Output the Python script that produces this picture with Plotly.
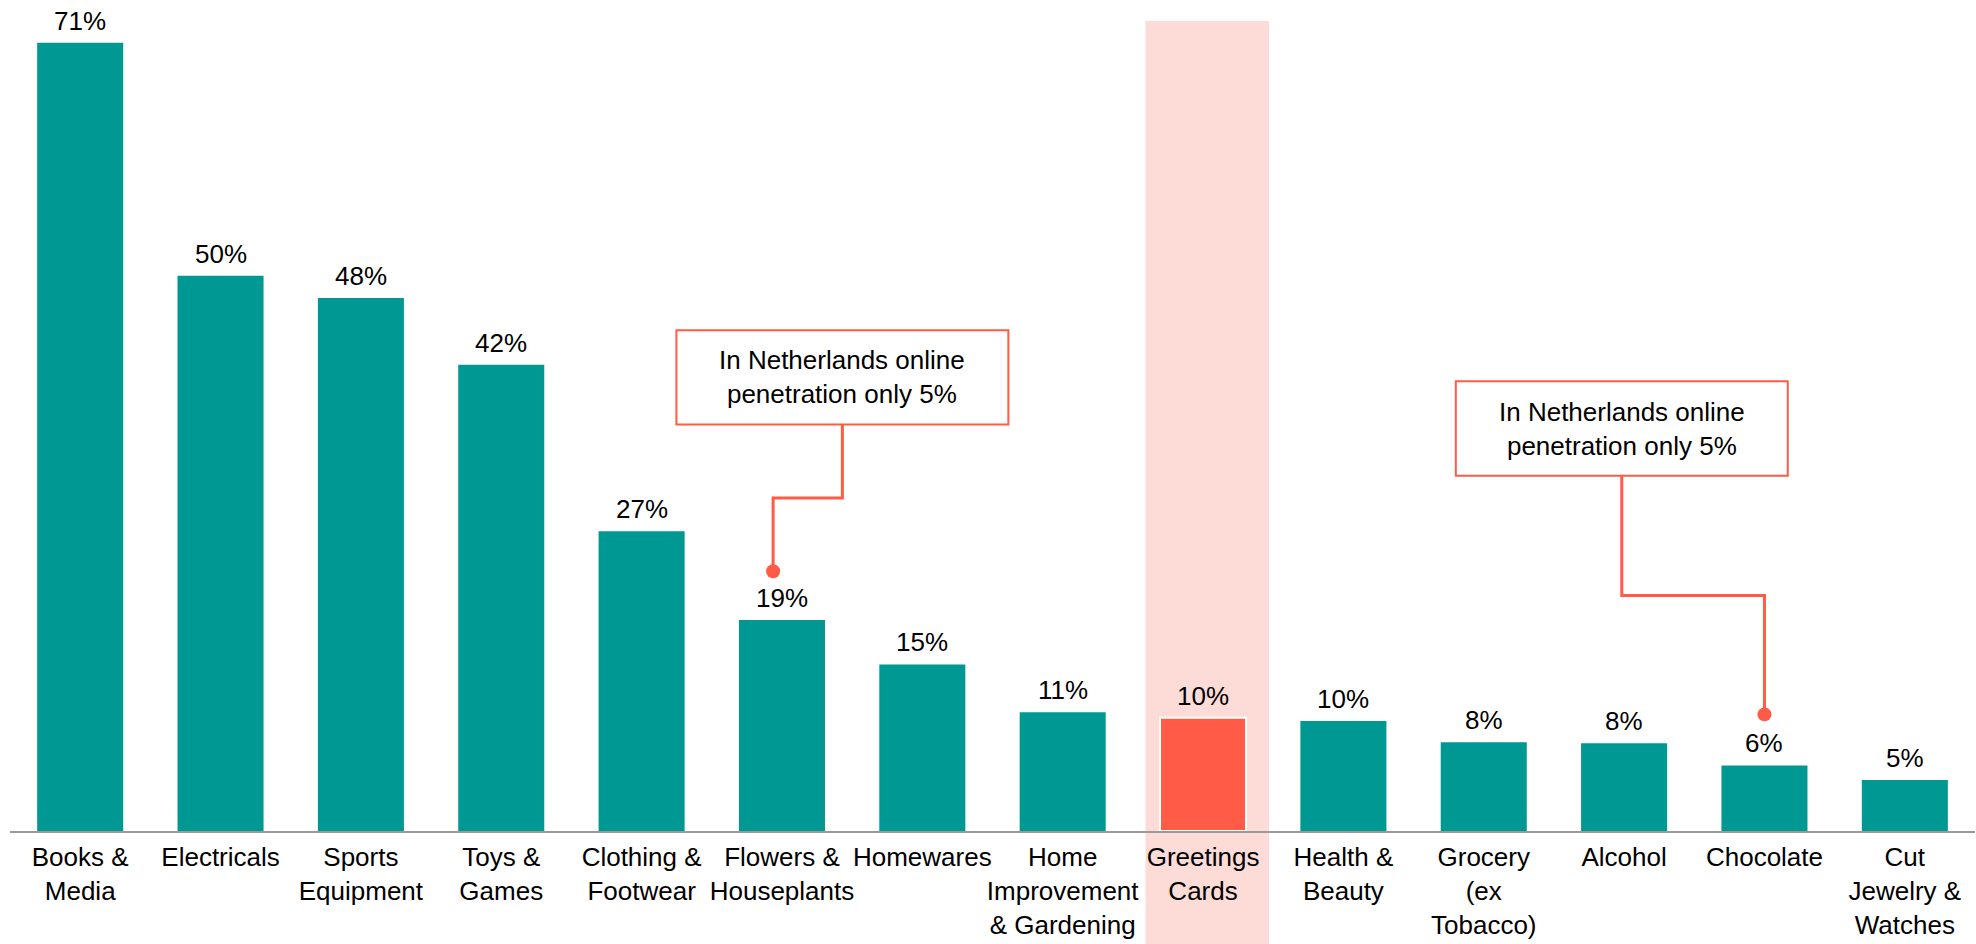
import plotly.graph_objects as go

# Online penetration by retail category
categories = [
    "Books &<br>Media", "Electricals", "Sports<br>Equipment", "Toys &<br>Games",
    "Clothing &<br>Footwear", "Flowers &<br>Houseplants", "Homewares",
    "Home<br>Improvement<br>& Gardening", "Greetings<br>Cards", "Health &<br>Beauty",
    "Grocery<br>(ex<br>Tobacco)", "Alcohol", "Chocolate", "Cut<br>Jewelry &<br>Watches",
]
penetration = [71, 50, 48, 42, 27, 19, 15, 10.7, 10.2, 9.9, 8.0, 7.9, 5.9, 4.6]
highlight = "Greetings<br>Cards"
callout_text = "In Netherlands online<br>penetration only 5%"
callout_targets = ["Flowers &<br>Houseplants", "Chocolate"]

TEAL = "#009892"
CORAL = "#FF5B47"
BAND = "#FDDCD8"
FONT = "Liberation Sans, Arial, sans-serif"

x_idx = list(range(len(categories)))
hi = categories.index(highlight)
bar_colors = [CORAL if i == hi else TEAL for i in x_idx]
line_w = [2 if i == hi else 0 for i in x_idx]

fig = go.Figure()
fig.add_trace(go.Bar(
    x=x_idx, y=penetration, width=0.613,
    marker=dict(color=bar_colors, line=dict(color="white", width=line_w)),
    hoverinfo="skip",
))

shapes = [
    # highlight band behind the featured category
    dict(type="rect", layer="below", xref="x", yref="paper",
         x0=hi - 0.41, x1=hi + 0.47, y0=-0.2, y1=1.0,
         fillcolor=BAND, line=dict(width=0)),
]

# value labels above each bar
annotations = [
    dict(x=i, y=v, xref="x", yref="y", text=f"{v:.0f}%", showarrow=False,
         xanchor="center", yanchor="bottom", yshift=5,
         font=dict(family=FONT, size=26, color="#000"))
    for i, v in zip(x_idx, penetration)
]

# callout boxes: (box x0, x1, y0, y1, elbow y, dot x offset, dot y)
callout_geom = [
    (4.248, 6.613, 36.6, 45.1, 30.0, -0.063, 23.4),
    (9.801, 12.166, 32.0, 40.5, 21.2, 0.0, 10.5),
]
dot_x, dot_y = [], []
for target, (bx0, bx1, by0, by1, elbow, dx, dy) in zip(callout_targets, callout_geom):
    ti = categories.index(target)
    cx = (bx0 + bx1) / 2
    tx = ti + dx
    shapes.append(dict(type="rect", xref="x", yref="y", x0=bx0, x1=bx1, y0=by0, y1=by1,
                       fillcolor="white", line=dict(color=CORAL, width=2)))
    shapes.append(dict(type="path", xref="x", yref="y",
                       path=f"M {cx},{by0} L {cx},{elbow} L {tx},{elbow} L {tx},{dy}",
                       line=dict(color=CORAL, width=3)))
    annotations.append(dict(x=cx, y=(by0 + by1) / 2, xref="x", yref="y",
                            text=callout_text, showarrow=False,
                            font=dict(family=FONT, size=26, color="#000"),
                            xanchor="center", yanchor="middle"))
    dot_x.append(tx)
    dot_y.append(dy)

fig.add_trace(go.Scatter(x=dot_x, y=dot_y, mode="markers",
                         marker=dict(color=CORAL, size=14),
                         cliponaxis=False, hoverinfo="skip"))

fig.update_layout(
    width=1976, height=944,
    margin=dict(l=9.5, r=1.1, t=21, b=113.2),
    paper_bgcolor="white", plot_bgcolor="rgba(0,0,0,0)",
    showlegend=False, shapes=shapes, annotations=annotations,
    font=dict(family=FONT, size=26, color="#000"),
)
fig.update_xaxes(
    range=[-0.5, len(categories) - 0.5],
    tickmode="array", tickvals=x_idx, ticktext=categories,
    showline=True, linecolor="#9a9a9a", linewidth=2,
    ticks="", showgrid=False, zeroline=False, tickangle=0,
    ticklabelstandoff=2,
    tickfont=dict(family=FONT, size=26, color="#000"),
)
fig.update_yaxes(range=[0, 72.95], visible=False, showgrid=False, zeroline=False)

fig.write_html("out.html")
